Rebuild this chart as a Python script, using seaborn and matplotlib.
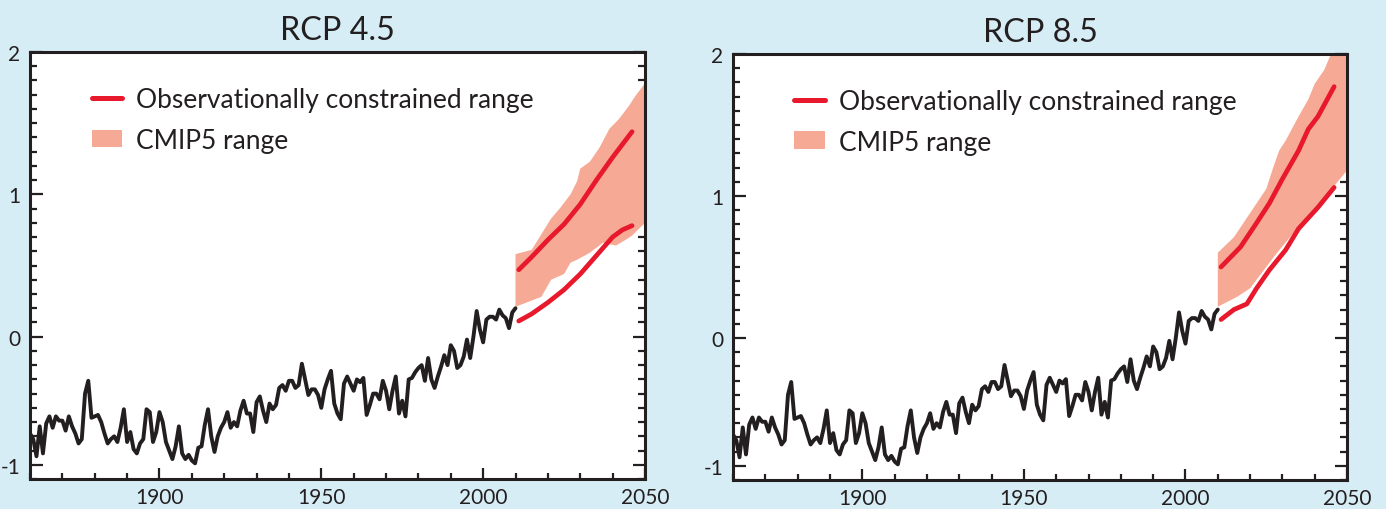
import numpy as np
import pandas as pd
import seaborn as sns
import matplotlib.pyplot as plt
from matplotlib.lines import Line2D
from matplotlib.patches import Patch
from matplotlib.ticker import FixedLocator, NullFormatter

# ---------------- data ----------------
obs_years = list(range(1860, 2011))
obs_temp = [
    -0.68, -0.72, -0.84, -0.63, -0.82, -0.61, -0.56, -0.64, -0.56, -0.59,   # 1860s
    -0.59, -0.66, -0.56, -0.63, -0.68, -0.75, -0.72, -0.40, -0.31, -0.57,   # 1870s
    -0.56, -0.55, -0.60, -0.68, -0.75, -0.72, -0.70, -0.74, -0.64, -0.51,   # 1880s
    -0.74, -0.67, -0.79, -0.82, -0.75, -0.72, -0.51, -0.53, -0.74, -0.67,   # 1890s
    -0.53, -0.60, -0.74, -0.80, -0.86, -0.77, -0.63, -0.82, -0.86, -0.83,   # 1900s
    -0.87, -0.89, -0.78, -0.77, -0.62, -0.51, -0.70, -0.81, -0.70, -0.64,   # 1910s
    -0.60, -0.53, -0.64, -0.60, -0.63, -0.52, -0.45, -0.54, -0.54, -0.67,   # 1920s
    -0.46, -0.42, -0.52, -0.60, -0.47, -0.51, -0.48, -0.36, -0.34, -0.38,   # 1930s
    -0.31, -0.31, -0.36, -0.34, -0.19, -0.30, -0.41, -0.37, -0.37, -0.41,   # 1940s
    -0.50, -0.37, -0.30, -0.24, -0.47, -0.54, -0.58, -0.33, -0.28, -0.33,   # 1950s
    -0.38, -0.30, -0.32, -0.29, -0.55, -0.48, -0.40, -0.40, -0.44, -0.31,   # 1960s
    -0.38, -0.51, -0.38, -0.28, -0.54, -0.45, -0.56, -0.30, -0.29, -0.25,   # 1970s
    -0.22, -0.20, -0.31, -0.15, -0.30, -0.36, -0.28, -0.21, -0.13, -0.20,   # 1980s
    -0.06, -0.10, -0.22, -0.20, -0.14, -0.02, -0.15, 0.00, 0.18, 0.05,      # 1990s
    -0.04, 0.12, 0.14, 0.14, 0.12, 0.19, 0.15, 0.13, 0.06, 0.17,            # 2000s
    0.20,                                                                   # 2010
]

panel_titles = ["RCP 4.5", "RCP 8.5"]
legend_labels = ["Observationally constrained range", "CMIP5 range"]

# RCP 4.5
rcp45_obs_hi_years = [2011, 2015, 2020, 2025, 2030, 2035, 2040, 2046]
rcp45_obs_hi_vals = [0.47, 0.56, 0.68, 0.79, 0.93, 1.10, 1.26, 1.44]
rcp45_obs_lo_years = [2011, 2015, 2020, 2025, 2030, 2035, 2040, 2043, 2046]
rcp45_obs_lo_vals = [0.11, 0.16, 0.24, 0.33, 0.44, 0.57, 0.70, 0.75, 0.78]
rcp45_cmip_hi_years = [2010, 2015, 2021, 2024, 2027, 2029, 2030, 2033, 2036, 2039, 2042, 2045, 2047, 2050]
rcp45_cmip_hi_vals = [0.58, 0.61, 0.83, 0.91, 1.00, 1.09, 1.18, 1.23, 1.33, 1.46, 1.53, 1.62, 1.69, 1.78]
rcp45_cmip_lo_years = [2010, 2018, 2021, 2025, 2027, 2029, 2033, 2037, 2041, 2044, 2046, 2050]
rcp45_cmip_lo_vals = [0.21, 0.28, 0.40, 0.44, 0.52, 0.54, 0.59, 0.66, 0.64, 0.68, 0.71, 0.80]

# RCP 8.5
rcp85_obs_hi_years = [2011, 2017, 2022, 2026, 2030, 2035, 2038, 2041, 2046]
rcp85_obs_hi_vals = [0.50, 0.64, 0.81, 0.95, 1.12, 1.32, 1.47, 1.56, 1.77]
rcp85_obs_lo_years = [2011, 2015, 2019, 2022, 2026, 2031, 2035, 2041, 2046]
rcp85_obs_lo_vals = [0.13, 0.20, 0.24, 0.35, 0.48, 0.62, 0.77, 0.92, 1.06]
rcp85_cmip_hi_years = [2010, 2015, 2020, 2025, 2027, 2029, 2031, 2035, 2038, 2040, 2043, 2045, 2050]
rcp85_cmip_hi_vals = [0.60, 0.71, 0.88, 1.05, 1.19, 1.32, 1.39, 1.56, 1.68, 1.79, 1.89, 2.00, 2.25]
rcp85_cmip_lo_years = [2010, 2016, 2020, 2024, 2028, 2032, 2036, 2041, 2046, 2050]
rcp85_cmip_lo_vals = [0.22, 0.29, 0.35, 0.47, 0.59, 0.70, 0.81, 0.94, 1.07, 1.18]

x_major = [1900, 1950, 2000, 2050]
y_major_pos = [-0.9, 0, 1, 2]
y_major_labels = ["-1", "0", "1", "2"]

# ---------------- style ----------------
BG = "#d7edf6"
RED = "#e8192c"
PINK = "#f6aa95"
BLACK = "#231f20"

sns.set_theme(style="ticks")
plt.rcParams["font.family"] = ["Lato", "DejaVu Sans"]
plt.rcParams["text.color"] = BLACK

fig = plt.figure(figsize=(13.86, 5.10), dpi=100, facecolor=BG)
ax1 = fig.add_axes([0.02165, 0.0588, 0.4437, 0.8373])
ax2 = fig.add_axes([0.5289, 0.0569, 0.4430, 0.8353])

panels = [
    (ax1, rcp45_obs_hi_years, rcp45_obs_hi_vals, rcp45_obs_lo_years, rcp45_obs_lo_vals,
     rcp45_cmip_hi_years, rcp45_cmip_hi_vals, rcp45_cmip_lo_years, rcp45_cmip_lo_vals),
    (ax2, rcp85_obs_hi_years, rcp85_obs_hi_vals, rcp85_obs_lo_years, rcp85_obs_lo_vals,
     rcp85_cmip_hi_years, rcp85_cmip_hi_vals, rcp85_cmip_lo_years, rcp85_cmip_lo_vals),
]

obs_df = pd.DataFrame({"year": obs_years, "temp": obs_temp})

for i, (ax, hy, hv, ly, lv, chy, chv, cly, clv) in enumerate(panels):
    ax.set_facecolor("white")
    # CMIP5 envelope polygon
    ax.fill(list(chy) + list(cly)[::-1], list(chv) + list(clv)[::-1],
            color=PINK, lw=0, zorder=1)
    sns.lineplot(data=obs_df, x="year", y="temp", ax=ax, color=BLACK, lw=2.8, zorder=3)
    sns.lineplot(x=hy, y=hv, ax=ax, color=RED, lw=3.4, zorder=4)
    sns.lineplot(x=ly, y=lv, ax=ax, color=RED, lw=3.4, zorder=4)

    ax.set_xlim(1860, 2050)
    ax.set_ylim(-1.0, 2.0)
    ax.set_xlabel("")
    ax.set_ylabel("")

    ax.xaxis.set_major_locator(FixedLocator(x_major))
    ax.xaxis.set_minor_locator(FixedLocator(list(range(1860, 2051, 10))))
    ax.yaxis.set_major_locator(FixedLocator(y_major_pos))
    ax.set_yticklabels(y_major_labels)
    ax.yaxis.set_minor_locator(FixedLocator([round(v, 1) for v in np.arange(-1.0, 2.01, 0.1)]))
    ax.xaxis.set_minor_formatter(NullFormatter())

    ax.tick_params(axis="both", which="both", direction="in", top=False, right=True,
                   left=True, bottom=True, labelright=False, color=BLACK,
                   labelcolor=BLACK, width=1.6)
    ax.tick_params(axis="y", which="major", length=9, labelsize=15, pad=7)
    ax.tick_params(axis="y", which="minor", length=5)
    ax.tick_params(axis="x", which="major", length=8, labelsize=15, pad=6)
    ax.tick_params(axis="x", which="minor", length=4)

    for s in ax.spines.values():
        s.set_visible(True)
        s.set_linewidth(2.2)
        s.set_color(BLACK)

    ax.set_title(panel_titles[i], fontsize=23.3, pad=9, color=BLACK)

    handles = [Line2D([0], [0], color=RED, lw=3.6),
               Patch(facecolor=PINK, edgecolor="none")]
    ax.legend(handles, legend_labels, loc="upper left", bbox_to_anchor=(0.1, 0.917),
              frameon=False, fontsize=19, handlelength=1.14, handleheight=0.66,
              handletextpad=0.53, labelspacing=0.58, borderpad=0, borderaxespad=0)

fig.savefig("out.png", dpi=100, facecolor=BG)
